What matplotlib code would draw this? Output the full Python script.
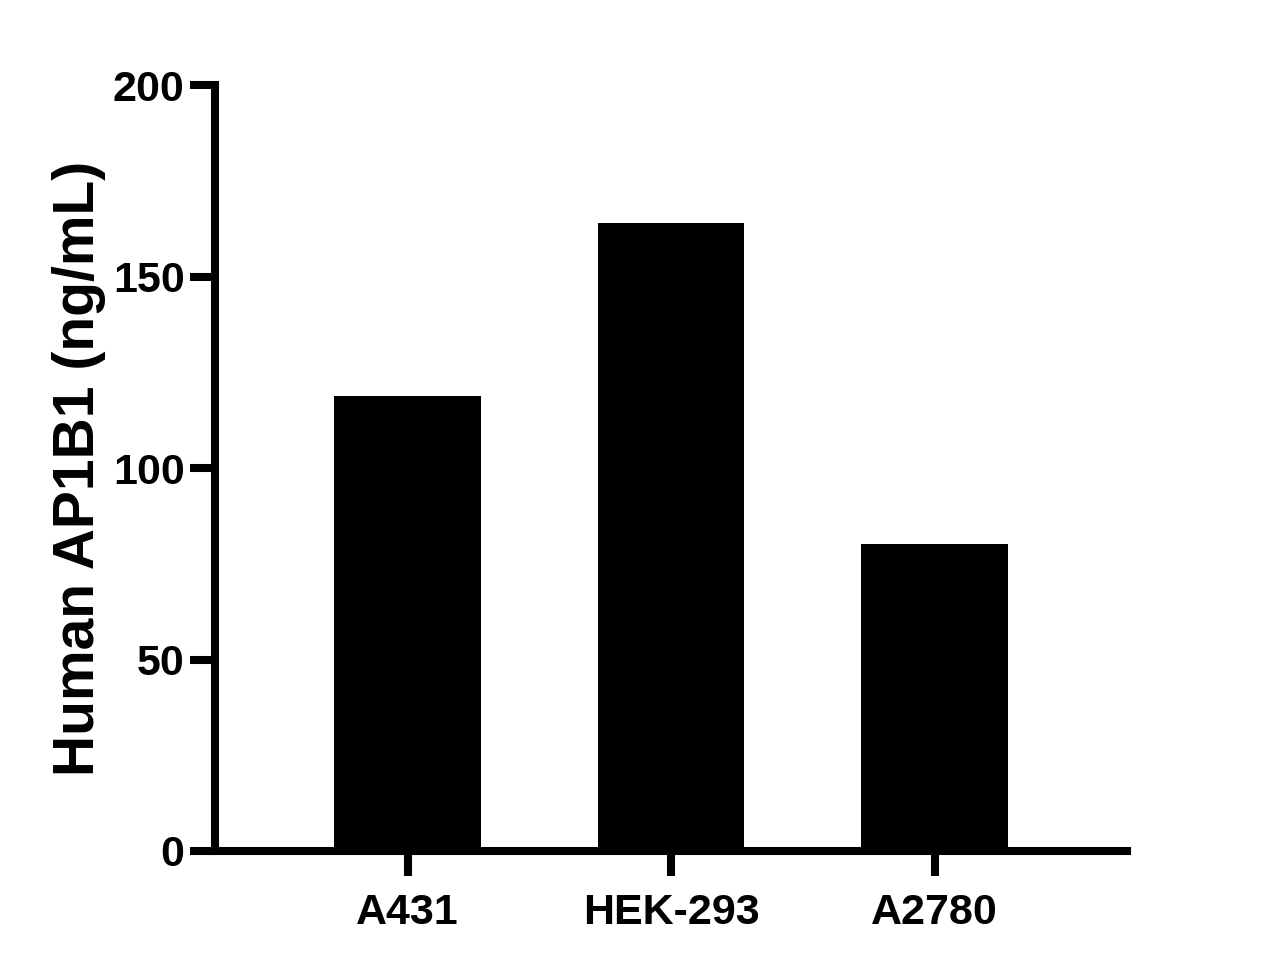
import matplotlib
matplotlib.use("Agg")
import matplotlib.pyplot as plt

categories = ["A431", "HEK-293", "A2780"]
values = [118.8, 164.0, 80.2]
yticks = [0, 50, 100, 150, 200]

plt.rcParams['font.family'] = ['Liberation Sans', 'DejaVu Sans']
plt.rcParams['font.weight'] = 'bold'

fig = plt.figure(figsize=(12.62, 9.72), dpi=100)
ax = fig.add_axes([0.1705, 0.1245, 0.7225, 0.788])

x = list(range(len(categories)))
ax.bar(x, values, width=0.555, color='black', edgecolor='black', linewidth=0)

ax.set_xlim(-0.73, 2.73)
ax.set_ylim(0, 200)
ax.set_yticks(yticks)
ax.set_yticklabels([str(v) for v in yticks], fontsize=31, fontweight='bold')
ax.set_xticks(x)
ax.set_xticklabels(categories, fontsize=31, fontweight='bold')

for s in ['top', 'right']:
    ax.spines[s].set_visible(False)
for s in ['left', 'bottom']:
    ax.spines[s].set_linewidth(5.8)
    ax.spines[s].set_capstyle('projecting')
ax.tick_params(axis='both', width=5.8, length=18, direction='out')
ax.tick_params(axis='y', pad=4)
ax.tick_params(axis='x', pad=12)

ax.set_ylabel("Human AP1B1 (ng/mL)", fontsize=41, fontweight='bold', labelpad=5)

fig.savefig("out.png", dpi=100)
